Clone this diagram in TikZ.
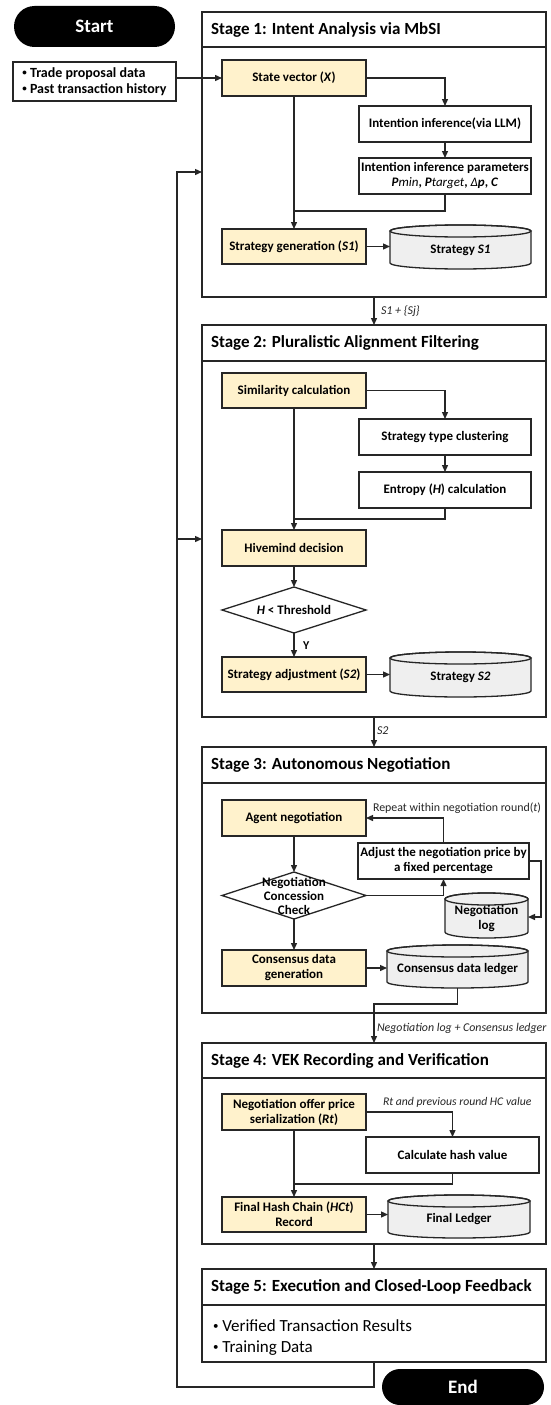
\documentclass[tikz,border=0pt]{standalone}
\usepackage{fontspec}
\setmainfont{Carlito}
\usetikzlibrary{arrows.meta,shapes.geometric,calc}
\definecolor{ylw}{HTML}{FFF2CC}
\definecolor{cylg}{HTML}{EFEFEF}
\definecolor{lnc}{HTML}{262626}
\newcommand{\dbcyl}[6]{%
  \pgfmathsetmacro\cylcx{(#2+#4)/2}%
  \pgfmathsetmacro\cylrx{(#4-#2)/2}%
  \pgfmathsetmacro\cylcy{(#3+#5)/2+3}%
  \pgfmathsetmacro\cylh{#5-#3-6}%
  \pgfmathsetmacro\cylw{#4-#2}%
  \path[draw=lnc,line width=1.3pt,fill=cylg] (#2,#3+6) -- (#2,#5-6)
    arc[start angle=180,end angle=0,x radius=\cylrx,y radius=6] -- (#4,#3+6)
    arc[start angle=0,end angle=-180,x radius=\cylrx,y radius=6] -- cycle;
  \draw[draw=lnc,line width=1.3pt] (\cylcx,#3+6) ellipse[x radius=\cylrx,y radius=6];
  \node[cyltxt, minimum width=\cylw pt, minimum height=\cylh pt] (#1) at (\cylcx,\cylcy) {#6};
}
\newcommand{\smallbul}{\raisebox{1.6pt}{\fontsize{9}{9}\selectfont •}}
\newcommand{\bigbul}{\raisebox{2pt}{\fontsize{11}{11}\selectfont •}}
\begin{document}
\begin{tikzpicture}[x=1pt,y=-1pt,
  every node/.style={inner sep=0pt,outer sep=0pt},
  lnk/.style={draw=lnc,line width=1.3pt},
  arr/.style={draw=lnc,line width=1.3pt,-{Triangle[length=7pt,width=6pt]}},
  box/.style={draw=lnc,line width=1.3pt,fill=white,minimum width=172pt,minimum height=36pt,align=center,font=\fontsize{13}{15}\selectfont\bfseries},
  ybox/.style={box,fill=ylw,minimum width=144pt},
  cyltxt/.style={align=center,font=\fontsize{13}{15}\selectfont\bfseries},
  stage/.style={draw=lnc,line width=1.5pt,fill=white,minimum width=344pt},
  stitle/.style={anchor=west,font=\fontsize{17}{20}\selectfont\bfseries},
  diam/.style={diamond,draw=lnc,line width=1.3pt,fill=white,minimum width=144pt,minimum height=46pt,inner sep=0pt},
  dtxt/.style={align=center,font=\fontsize{13}{14}\selectfont\bfseries},
  lbl/.style={anchor=west,text=lnc,font=\fontsize{11.7}{13}\selectfont\itshape},
  pill/.style={fill=black,text=white,font=\fontsize{19}{22}\selectfont\bfseries},
]
\useasboundingbox (0,0) rectangle (550,1405);
\fill[white] (0,0) rectangle (550,1405);

% start and input
\node[pill,rounded corners=20.5pt,minimum width=161pt,minimum height=41pt] (start) at (94.5,26.5) {Start};
\node[box,minimum width=163pt,minimum height=39pt,align=left,font=\fontsize{14}{16}\selectfont\bfseries] (inp) at (94.5,81.5) {\smallbul\ Trade proposal data\\\smallbul\ Past transaction history};

% stage frames
\node[stage,minimum height=285pt] (st1) at (374,154.5) {};
\node[stage,minimum height=392pt] (st2) at (374,521) {};
\node[stage,minimum height=266pt] (st3) at (374,880) {};
\node[stage,minimum height=201pt] (st4) at (374,1143.5) {};
\node[stage,minimum height=93pt] (st5) at (374,1315.5) {};
\draw[draw=lnc,line width=1.3pt] ($(st1.north west)+(0,35)$) -- ($(st1.north east)+(0,35)$);
\draw[draw=lnc,line width=1.3pt] ($(st2.north west)+(0,36)$) -- ($(st2.north east)+(0,36)$);
\draw[draw=lnc,line width=1.3pt] ($(st3.north west)+(0,36)$) -- ($(st3.north east)+(0,36)$);
\draw[draw=lnc,line width=1.3pt] ($(st4.north west)+(0,35)$) -- ($(st4.north east)+(0,35)$);
\draw[draw=lnc,line width=1.3pt] ($(st5.north west)+(0,36)$) -- ($(st5.north east)+(0,36)$);
\node[stitle] (t1) at (211,29.5) {Stage 1: Intent Analysis via MbSI};
\node[stitle] (t2) at (211,343) {Stage 2: Pluralistic Alignment Filtering};
\node[stitle] (t3) at (211,765) {Stage 3: Autonomous Negotiation};
\node[stitle] (t4) at (211,1060.5) {Stage 4: VEK Recording and Verification};
\node[stitle] (t5) at (211,1287) {Stage 5: Execution and Closed-Loop Feedback};

% stage 1
\node[ybox] (sv) at (294,78) {State vector (\textit{X})};
\node[box] (int) at (445,124) {Intention inference(via LLM)};
\node[box] (par) at (445,176) {Intention inference parameters\\\textbf{\textit{P}}{\mdseries\itshape min}, \textbf{\textit{P}}{\mdseries\itshape target}, {\mdseries\itshape Δ}\textbf{\textit{p}}, \textbf{\textit{C}}};
\node[ybox,minimum height=35pt] (sg) at (294,246.5) {Strategy generation (\textit{S1})};
\dbcyl{s1db}{390}{225}{531}{269}{Strategy \textit{S1}}
\coordinate (m1) at (294,211);
\draw[arr] (inp.east |- sv.west) -- (sv.west);
\draw[arr] (sv.east) -| (int.north);
\draw[arr] (int.south) -- (par.north);
\draw[arr] (sv.south) -- (sg.north);
\draw[lnk] (par.south) |- (m1);
\draw[arr] (sg.east) -- (sg.east -| s1db.west);
\draw[arr] (st1.south) -- (st2.north);
\node[lbl,font=\fontsize{12}{14}\selectfont\itshape] (l1) at (381,311) {S1 + \{Sj\}};

% stage 2
\node[ybox,minimum height=35pt] (sim) at (294,390.5) {Similarity calculation};
\node[box] (clu) at (445,437) {Strategy type clustering};
\node[box] (ent) at (445,490) {Entropy (\textit{H}) calculation};
\node[ybox] (hive) at (294,548) {Hivemind decision};
\node[diam] (d1) at (294,610) {};
\node[dtxt] (d1t) at (d1) {\textit{H} < Threshold};
\node[ybox,minimum height=35pt] (adj2) at (294,674.5) {Strategy adjustment (\textit{S2})};
\dbcyl{s2db}{390}{652}{531}{697}{Strategy \textit{S2}}
\coordinate (m2) at (294,519);
\draw[arr] (sim.east) -| (clu.north);
\draw[arr] (clu.south) -- (ent.north);
\draw[arr] (sim.south) -- (hive.north);
\draw[lnk] (ent.south) |- (m2);
\draw[arr] (hive.south) -- (d1.north);
\draw[arr] (d1.south) -- (adj2.north);
\node[anchor=west,font=\fontsize{12}{14}\selectfont\bfseries] (yl) at (303,646) {Y};
\draw[arr] (adj2.east) -- (adj2.east -| s2db.west);
\draw[arr] (st2.south) -- (st3.north);
\node[lbl,font=\fontsize{12}{14}\selectfont\itshape] (l2) at (377,731) {S2};

% stage 3
\node[ybox] (agent) at (294,818) {Agent negotiation};
\node[box,minimum width=171pt] (adjp) at (443.5,861) {Adjust the negotiation price by\\a fixed percentage};
\node[diam,minimum height=47pt] (d2) at (294,895.5) {};
\node[dtxt] (d2t) at (d2) {Negotiation\\Concession\\Check};
\dbcyl{logdb}{445}{893}{528}{938}{Negotiation\\log}
\node[ybox] (cons) at (294,968) {Consensus data\\generation};
\dbcyl{ledg}{387}{945}{528}{988}{Consensus data ledger}
\node[anchor=west,text=lnc,font=\fontsize{11.9}{13}\selectfont] (rep) at (373,808) {Repeat within negotiation round(\textit{t})};
\coordinate (r1) at (541,917);
\coordinate (r3) at (374,1004);
\draw[arr] (adjp.north) |- (agent.east);
\draw[arr] (agent.south) -- (d2.north);
\draw[arr] (d2.east) -| (adjp.south);
\draw[arr] (adjp.east) -| (r1) -- (r1 -| logdb.east);
\draw[arr] (d2.south) -- (cons.north);
\draw[arr] (cons.east) -- (cons.east -| ledg.west);
\draw[arr] (ledg.south) |- (r3) -- (st4.north);
\node[lbl,font=\fontsize{11.9}{14}\selectfont\itshape] (l3) at (377,1028) {Negotiation log + Consensus ledger};

% stage 4
\node[ybox] (neg) at (294,1112) {Negotiation offer price\\serialization (\textit{Rt})};
\node[box,minimum width=173pt] (calc) at (452.5,1155) {Calculate hash value};
\node[ybox,minimum height=35pt] (fh) at (294,1214.5) {Final Hash Chain (\textit{HCt})\\Record};
\dbcyl{fl}{388}{1195}{530}{1238}{Final Ledger}
\node[lbl] (l4) at (383,1102) {Rt and previous round HC value};
\coordinate (m4) at (294,1184);
\draw[arr] (neg.east) -| (calc.north);
\draw[arr] (neg.south) -- (fh.north);
\draw[lnk] (calc.south) |- (m4);
\draw[arr] (fh.east) -- (fh.east -| fl.west);
\draw[arr] (st4.south) -- (st5.north);

% stage 5
\node[anchor=west,align=left,font=\fontsize{17}{21}\selectfont] (res) at (213,1337.5) {\bigbul\ Verified Transaction Results\\\bigbul\ Training Data};

% feedback loop
\coordinate (lpb) at (177,1387);
\coordinate (lpt) at (177,172);
\coordinate (lpm) at (177,539);
\draw[arr,line join=miter] (st5.south) |- (lpb) -- (lpt) -- (lpt -| st1.west);
\draw[arr] (lpm) -- (lpm -| st2.west);

% end
\node[pill,rounded corners=18pt,minimum width=162pt,minimum height=36pt] (end) at (463,1387) {End};
\end{tikzpicture}
\end{document}
